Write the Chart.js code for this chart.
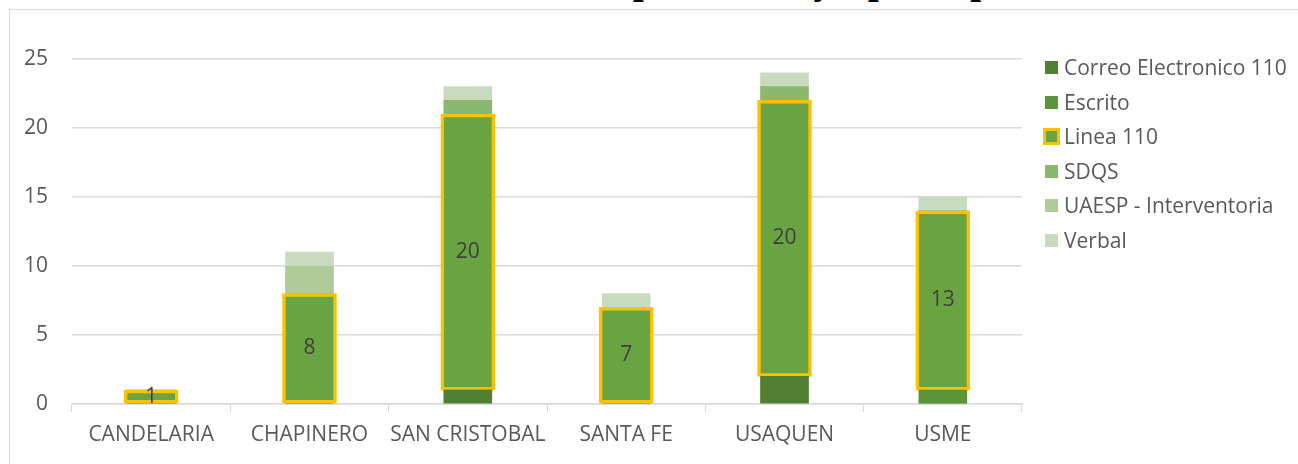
<!DOCTYPE html>
<html>
<head>
<meta charset="utf-8">
<script src="https://cdn.jsdelivr.net/npm/chart.js@4.4.0/dist/chart.umd.min.js"></script>
<style>
html,body{margin:0;padding:0;background:#fff;overflow:hidden}
#wrap{position:relative;width:1298px;height:464px;overflow:hidden}
#frame{position:absolute;left:9px;top:9px;width:1400px;height:600px;border:1px solid #D9D9D9;box-sizing:border-box}
#title{position:absolute;top:-44px;left:516px;line-height:40px;white-space:nowrap;font:bold 40px "Liberation Serif";color:#000}
canvas{position:absolute;left:0;top:0}
#legend{position:absolute;left:1045px;top:50px;font:21px "Open Sans";color:#595959}
#legend div{height:34.5px;line-height:34.5px;white-space:nowrap;position:relative;padding-left:19px}
#legend span{position:absolute;left:0;top:11px;width:13px;height:13px;box-sizing:border-box}
</style>
</head>
<body>
<div id="wrap">
  <div id="frame"></div>
  <div id="title">PQRS por sector y tipo de peticion</div>
  <canvas id="chart" width="1298" height="464"></canvas>
  <div id="legend"></div>
</div>
<script>
// localidades
const categories = ["CANDELARIA","CHAPINERO","SAN CRISTOBAL","SANTA FE","USAQUEN","USME"]

// tipo de peticion
const correo  = [0,0,1,0,2,0]
const escrito = [0,0,0,0,0,1]
const linea   = [1,8,20,7,20,13]
const sdqs    = [0,0,1,0,1,0]
const uaesp   = [0,2,0,0,0,0]
const verbal  = [0,1,1,1,1,1]

const yTicks = [0,5,10,15,20,25]

const grid = "#D9D9D9"
const txt = "#595959"

// labels on the Linea 110 segments
const lineaLabels = {
  id:"lineaLabels",
  afterDatasetsDraw(chart){
    const c = chart.ctx
    const meta = chart.getDatasetMeta(2)
    c.save()
    c.font = "21px 'Open Sans'"
    c.fillStyle = "#404040"
    c.textAlign = "center"
    c.textBaseline = "middle"
    meta.data.forEach((bar,i)=>{
      c.fillText(linea[i], bar.x, (bar.y + bar.base)/2)
    })
    c.restore()
  }
}

const ctx = document.getElementById("chart")

const chart = new Chart(ctx,{
  type:"bar",
  data:{
    labels:categories,
    datasets:[
      {label:"Correo Electronico 110", data:correo, backgroundColor:"#507E32", barThickness:48},
      {label:"Escrito", data:escrito, backgroundColor:"#5E9439", barThickness:48},
      {label:"Linea 110", data:linea, backgroundColor:"#6AA342", borderColor:"#FFC000", borderWidth:3.5, borderSkipped:false, barThickness:54},
      {label:"SDQS", data:sdqs, backgroundColor:"#8AB86E", barThickness:48},
      {label:"UAESP - Interventoria", data:uaesp, backgroundColor:"#AECB99", barThickness:48},
      {label:"Verbal", data:verbal, backgroundColor:"#C9DBBF", barThickness:48}
    ]
  },
  options:{
    responsive:false,
    animation:false,
    layout:{padding:{top:59,right:276,left:0,bottom:0}},
    plugins:{legend:{display:false}, tooltip:{enabled:false}},
    scales:{
      x:{
        stacked:true,
        grid:{drawOnChartArea:false, color:grid, tickLength:8},
        border:{color:grid, width:1.5},
        ticks:{color:txt, font:{family:"Open Sans", size:21}, padding:10, maxRotation:0, autoSkip:false},
        afterFit(s){ s.height = 60 }
      },
      y:{
        stacked:true,
        min:0, max:25,
        afterBuildTicks(s){ s.ticks = yTicks.map(v=>({value:v})) },
        grid:{color:grid, lineWidth:1.5, drawTicks:false},
        border:{display:false},
        ticks:{color:txt, font:{family:"Open Sans", size:21}, padding:24},
        afterFit(s){ s.width = 72 }
      }
    }
  },
  plugins:[lineaLabels]
})

// legend
let html = ""
chart.data.datasets.forEach(d=>{
  let sw = "background:" + d.backgroundColor
  if(d.borderWidth){
    sw += ";border:3px solid " + d.borderColor + ";width:17px;height:17px;left:-2px;top:9px"
  }
  html += `<div><span style="${sw}"></span>${d.label}</div>`
})
document.getElementById("legend").innerHTML = html
</script>
</body>
</html>
